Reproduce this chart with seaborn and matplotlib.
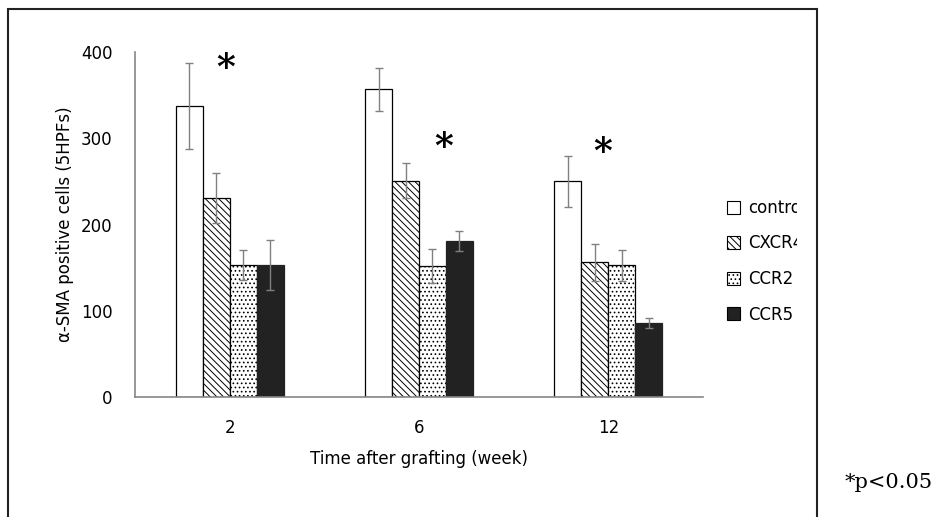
import numpy as np
import pandas as pd
import matplotlib
matplotlib.use("Agg")
import matplotlib.pyplot as plt
import matplotlib.patches as mpatches
import seaborn as sns

# ==========================================================
# data
# ==========================================================

weeks = ["2", "6", "12"]
groups = ["control", "CXCR4", "CCR2", "CCR5"]

control_mean = [337, 357, 250]
cxcr4_mean = [231, 251, 156]
ccr2_mean = [153, 152, 153]
ccr5_mean = [153, 181, 86]

control_err = [50, 25, 30]
cxcr4_err = [29, 20, 21]
ccr2_err = [17, 20, 18]
ccr5_err = [29, 12, 6]

# asterisk positions (category index, value)
star_x = [-0.02, 1.13, 1.97]
star_y = [381, 290, 284]

# ==========================================================
# styles
# ==========================================================

face = ["white", "white", "white", "#222222"]
hatch = ["", "\\\\\\\\\\", "....", ""]

df = pd.DataFrame({
    "week": np.repeat(weeks, 4),
    "group": groups * 3,
    "value": np.ravel(np.column_stack(
        [control_mean, cxcr4_mean, ccr2_mean, ccr5_mean])),
    "err": np.ravel(np.column_stack(
        [control_err, cxcr4_err, ccr2_err, ccr5_err])),
})

sns.set_style("white")
plt.rcParams["font.family"] = ["DejaVu Sans"]
plt.rcParams["text.color"] = "black"
plt.rcParams["axes.labelcolor"] = "black"
plt.rcParams["hatch.linewidth"] = 0.7

fig = plt.figure(figsize=(9.49, 5.17), dpi=100)
ax = fig.add_axes([135 / 949, 1 - 397 / 517, 568 / 949, 345 / 517])

sns.barplot(
    data=df, x="week", y="value", hue="group",
    order=weeks, hue_order=groups,
    errorbar=None, width=0.57, gap=0,
    palette=face, edgecolor="black", linewidth=0.9,
    legend=False, ax=ax
)

# restyle bars + error bars (patches sorted left to right)
bars = sorted(ax.patches, key=lambda p: p.get_x())
for i, p in enumerate(bars):
    g = i % 4
    p.set_facecolor(face[g])
    p.set_hatch(hatch[g])
    p.set_edgecolor("black" if g != 3 else "#222222")

cx = [p.get_x() + p.get_width() / 2 for p in bars]
cy = [p.get_height() for p in bars]
ax.errorbar(
    cx, cy, yerr=df["err"].values,
    fmt="none", ecolor="#808080", elinewidth=1.0,
    capsize=2.6, capthick=1.0, zorder=5
)

for x, y in zip(star_x, star_y):
    ax.text(x, y, "*", ha="center", va="center",
            fontsize=26, fontweight="bold", family="DejaVu Serif")

ax.set_ylim(0, 400)
ax.set_xlim(-0.5, 2.5)
ax.set_yticks([0, 100, 200, 300, 400])

sns.despine(ax=ax)
for s in ["left", "bottom"]:
    ax.spines[s].set_color("#868686")
    ax.spines[s].set_linewidth(1.2)

ax.tick_params(axis="y", direction="in", length=5, width=1,
               color="#868686", pad=16, labelsize=12, labelcolor="black")
ax.tick_params(axis="x", length=0, pad=16, labelsize=12, labelcolor="black")

ax.set_xlabel("Time after grafting (week)", fontsize=12, labelpad=9)
ax.set_ylabel("α-SMA positive cells (5HPFs)", fontsize=12, labelpad=5)

# legend
handles = [
    mpatches.Patch(facecolor=face[i], edgecolor="black",
                   hatch=hatch[i], linewidth=0.8)
    for i in range(4)
]
leg = fig.legend(
    handles, groups, loc="upper left",
    bbox_to_anchor=(712 / 949, 1 - 184 / 517),
    frameon=False, fontsize=12,
    handlelength=0.8, handleheight=0.8,
    handletextpad=0.45, labelspacing=1.05
)
leg.set_zorder(5)

# legend box is cut off on the right as in the source
mask_x0 = 797 / 949
frame_x0 = 8 / 949
frame_x1 = 817 / 949
fig.patches.append(mpatches.Rectangle(
    (mask_x0, 1 - 340 / 517), 1 - mask_x0, 160 / 517,
    transform=fig.transFigure, facecolor="white",
    edgecolor="none", zorder=8
))
fig.patches.append(mpatches.Rectangle(
    (frame_x0, -0.1), frame_x1 - frame_x0, 1.1 - 9 / 517,
    transform=fig.transFigure, fill=False,
    edgecolor="#222222", linewidth=1.5, zorder=9
))

fig.text(845 / 949, 1 - 482 / 517, "*p<0.05", ha="left", va="center",
         fontsize=15, family="DejaVu Serif")

fig.savefig("out.png", dpi=100)
